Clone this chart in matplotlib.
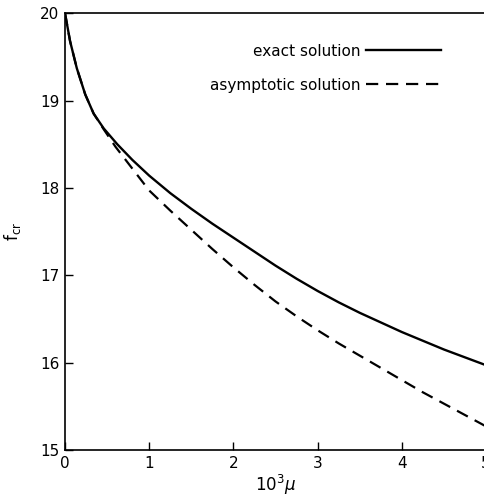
import matplotlib
matplotlib.use("Agg")
import matplotlib.pyplot as plt

# values (x = 10^3 mu)
mu_exact = [0, 0.06, 0.14, 0.24, 0.34, 0.46, 0.62, 0.8, 1.0, 1.25, 1.5, 1.75,
            2.0, 2.25, 2.5, 2.75, 3.0, 3.25, 3.5, 3.75, 4.0, 4.25, 4.5, 4.75, 5.0]
f_exact = [20.0, 19.68, 19.37, 19.07, 18.85, 18.68, 18.50, 18.32, 18.14, 17.94, 17.76, 17.59,
           17.43, 17.27, 17.11, 16.96, 16.82, 16.69, 16.57, 16.46, 16.35, 16.25, 16.15, 16.06, 15.97]

mu_asym = [0, 0.06, 0.14, 0.24, 0.34, 0.46, 0.6, 0.8, 1.0, 1.25, 1.5, 1.75,
           2.0, 2.25, 2.5, 2.75, 3.0, 3.25, 3.5, 3.75, 4.0, 4.25, 4.5, 4.75, 5.0]
f_asym = [20.0, 19.68, 19.37, 19.07, 18.85, 18.67, 18.47, 18.22, 17.97, 17.74, 17.52, 17.30,
          17.09, 16.89, 16.70, 16.53, 16.37, 16.22, 16.08, 15.94, 15.80, 15.66, 15.53, 15.40, 15.27]

x_ticks = [0, 1, 2, 3, 4, 5]
y_ticks = [15, 16, 17, 18, 19, 20]

fig = plt.figure(figsize=(4.84, 5.01), dpi=100)
ax = fig.add_axes([0.1343, 0.1018, 0.870, 0.872])

ax.plot(mu_exact, f_exact, color="black", lw=1.7, label="exact solution")
ax.plot(mu_asym, f_asym, color="black", lw=1.6, dashes=(5.5, 3.5),
        label="asymptotic solution")

ax.set_xlim(0, 5)
ax.set_ylim(15, 20)
ax.set_xticks(x_ticks)
ax.set_yticks(y_ticks)
ax.tick_params(direction="in", length=6, width=1, labelsize=11, pad=4)
for s in ax.spines.values():
    s.set_linewidth(1.2)

ax.set_xlabel(r"$10^3\mu$", fontsize=12, labelpad=2)
ax.set_ylabel(r"f$_{\rm cr}$", fontsize=12, labelpad=12)

ax.legend(loc="upper right", bbox_to_anchor=(0.893, 0.93), frameon=False,
          markerfirst=False, fontsize=11, handlelength=4.9, handletextpad=0.4,
          borderpad=0, borderaxespad=0, labelspacing=1.25)

fig.savefig("out.png", dpi=100)
